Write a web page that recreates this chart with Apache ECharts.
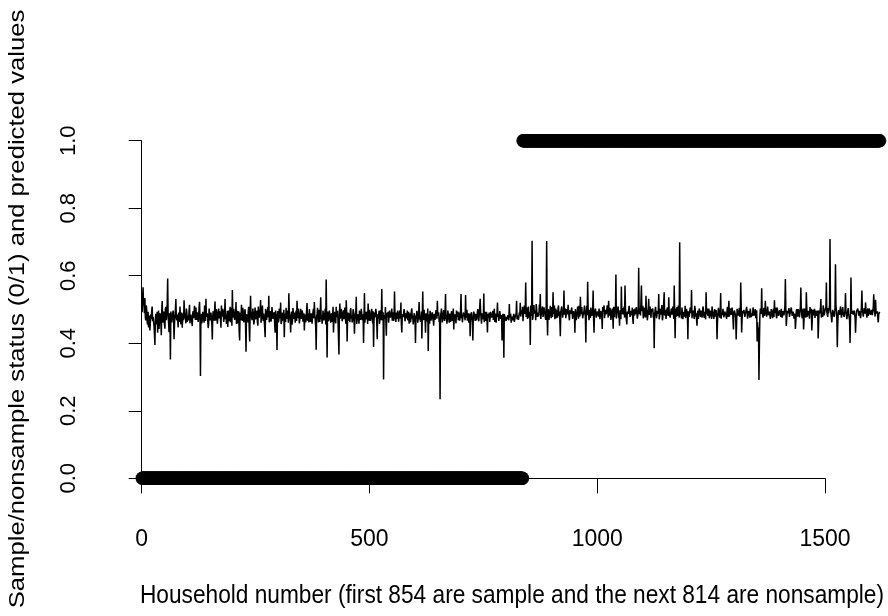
<!DOCTYPE html>
<html><head><meta charset="utf-8">
<script src="https://cdn.jsdelivr.net/npm/echarts@6/dist/echarts.min.js"></script>
<style>html,body{margin:0;padding:0;background:#fff}#c{width:888px;height:616px}</style>
</head><body><div id="c"></div>
<script>
// Household status: first block sample (0), rest nonsample (1)
const sampleCount = 836;
const nonsampleCount = 784;
// Predicted values: odd households (1, 3, 5, ...)
const predictedOdd = [
0.492,0.566,0.512,0.534,0.468,0.501,0.455,0.447,0.482,0.463,0.471,0.509,0.478,0.452,0.395,0.487,0.469,0.431,0.497,0.466,
0.478,0.424,0.525,0.461,0.494,0.443,0.508,0.471,0.592,0.462,0.489,0.352,0.476,0.459,0.497,0.412,0.483,0.531,0.468,0.472,
0.491,0.463,0.505,0.478,0.446,0.487,0.527,0.474,0.459,0.493,0.482,0.468,0.514,0.477,0.488,0.451,0.495,0.472,0.483,0.506,
0.469,0.487,0.478,0.523,0.303,0.481,0.472,0.494,0.461,0.485,0.532,0.476,0.489,0.458,0.498,0.470,0.486,0.411,0.495,0.467,
0.524,0.478,0.491,0.456,0.503,0.482,0.469,0.512,0.475,0.493,0.462,0.531,0.486,0.471,0.448,0.497,0.483,0.462,0.505,0.558,
0.476,0.491,0.468,0.522,0.487,0.459,0.495,0.408,0.483,0.514,0.466,0.489,0.473,0.501,0.375,0.486,0.462,0.508,0.405,0.541,
0.492,0.471,0.485,0.463,0.506,0.478,0.497,0.452,0.488,0.474,0.528,0.481,0.512,0.466,0.489,0.418,0.496,0.473,0.507,0.541,
0.471,0.488,0.459,0.503,0.477,0.492,0.431,0.484,0.380,0.495,0.468,0.481,0.521,0.463,0.490,0.476,0.418,0.488,0.505,0.472,
0.486,0.548,0.479,0.432,0.494,0.468,0.507,0.483,0.461,0.497,0.526,0.474,0.489,0.456,0.502,0.478,0.491,0.466,0.438,0.485,
0.473,0.519,0.488,0.462,0.496,0.471,0.484,0.453,0.502,0.522,0.468,0.381,0.487,0.476,0.499,0.463,0.536,0.482,0.470,0.494,
0.478,0.503,0.589,0.358,0.486,0.472,0.497,0.461,0.489,0.475,0.432,0.493,0.468,0.508,0.481,0.464,0.367,0.518,0.479,0.491,
0.467,0.498,0.473,0.486,0.527,0.405,0.491,0.476,0.462,0.504,0.483,0.469,0.495,0.428,0.487,0.538,0.471,0.482,0.458,0.496,
0.476,0.489,0.463,0.401,0.549,0.482,0.471,0.494,0.518,0.467,0.485,0.478,0.502,0.459,0.389,0.491,0.474,0.487,0.412,0.481,
0.496,0.472,0.484,0.561,0.468,0.293,0.489,0.507,0.422,0.478,0.493,0.461,0.485,0.472,0.503,0.481,0.466,0.553,0.475,0.491,
0.468,0.486,0.479,0.497,0.521,0.432,0.488,0.474,0.491,0.465,0.482,0.497,0.476,0.458,0.489,0.472,0.503,0.481,0.467,0.494,
0.401,0.478,0.489,0.466,0.522,0.481,0.473,0.414,0.553,0.487,0.469,0.431,0.492,0.478,0.377,0.485,0.496,0.467,0.483,0.474,
0.452,0.488,0.471,0.495,0.526,0.477,0.462,0.234,0.489,0.481,0.473,0.498,0.466,0.546,0.484,0.471,0.492,0.461,0.487,0.476,
0.493,0.478,0.441,0.486,0.472,0.497,0.483,0.468,0.491,0.477,0.546,0.485,0.463,0.494,0.479,0.543,0.481,0.467,0.489,0.476,
0.421,0.486,0.473,0.408,0.494,0.479,0.487,0.468,0.492,0.476,0.483,0.532,0.471,0.489,0.478,0.547,0.485,0.466,0.493,0.432,
0.476,0.491,0.468,0.484,0.472,0.496,0.481,0.463,0.488,0.477,0.521,0.485,0.469,0.492,0.474,0.408,0.487,0.357,0.482,0.471,
0.478,0.466,0.484,0.516,0.472,0.461,0.479,0.468,0.487,0.459,0.474,0.526,0.482,0.469,0.491,0.520,0.476,0.488,0.465,0.493,
0.487,0.580,0.495,0.472,0.509,0.478,0.395,0.498,0.704,0.476,0.513,0.487,0.468,0.502,0.491,0.479,0.515,0.546,0.484,0.497,
0.478,0.506,0.491,0.469,0.703,0.423,0.495,0.482,0.511,0.474,0.499,0.551,0.486,0.471,0.503,0.489,0.476,0.512,0.494,0.421,
0.488,0.507,0.479,0.556,0.492,0.474,0.501,0.486,0.513,0.468,0.495,0.482,0.504,0.477,0.491,0.431,0.498,0.484,0.509,0.473,
0.494,0.538,0.486,0.503,0.478,0.497,0.489,0.402,0.511,0.582,0.483,0.499,0.475,0.506,0.488,0.556,0.431,0.492,0.507,0.481,
0.496,0.479,0.508,0.487,0.501,0.442,0.493,0.512,0.476,0.498,0.485,0.504,0.526,0.482,0.495,0.471,0.503,0.443,0.490,0.507,
0.604,0.488,0.497,0.476,0.452,0.503,0.568,0.491,0.485,0.509,0.571,0.483,0.456,0.498,0.489,0.512,0.479,0.494,0.506,0.457,
0.491,0.503,0.486,0.511,0.478,0.624,0.495,0.482,0.571,0.499,0.474,0.506,0.488,0.541,0.493,0.481,0.532,0.497,0.485,0.502,
0.489,0.476,0.385,0.498,0.507,0.482,0.493,0.546,0.479,0.501,0.487,0.468,0.495,0.551,0.484,0.472,0.499,0.488,0.536,0.491,
0.478,0.503,0.486,0.495,0.571,0.415,0.492,0.507,0.481,0.497,0.699,0.488,0.474,0.505,0.493,0.479,0.511,0.486,0.498,0.412,
0.491,0.483,0.504,0.558,0.487,0.496,0.472,0.501,0.489,0.452,0.497,0.484,0.508,0.478,0.493,0.486,0.502,0.475,0.489,0.551,
0.496,0.481,0.503,0.488,0.495,0.472,0.507,0.485,0.493,0.479,0.498,0.412,0.487,0.502,0.476,0.549,0.491,0.484,0.506,0.479,
0.492,0.485,0.499,0.478,0.526,0.489,0.503,0.481,0.494,0.441,0.497,0.486,0.411,0.502,0.488,0.495,0.479,0.580,0.432,0.496,
0.487,0.503,0.478,0.495,0.509,0.484,0.492,0.476,0.505,0.489,0.481,0.498,0.486,0.501,0.473,0.405,0.438,0.291,0.479,0.495,
0.563,0.488,0.497,0.481,0.526,0.493,0.478,0.505,0.487,0.499,0.483,0.496,0.474,0.502,0.527,0.489,0.481,0.506,0.492,0.485,
0.494,0.478,0.503,0.487,0.498,0.482,0.590,0.451,0.496,0.485,0.504,0.479,0.492,0.507,0.486,0.498,0.481,0.442,0.495,0.489,
0.501,0.486,0.497,0.565,0.483,0.494,0.441,0.503,0.488,0.551,0.479,0.496,0.485,0.507,0.491,0.438,0.499,0.484,0.502,0.489,
0.495,0.482,0.414,0.497,0.486,0.531,0.491,0.478,0.503,0.489,0.497,0.580,0.485,0.504,0.492,0.709,0.488,0.462,0.499,0.491,
0.484,0.634,0.497,0.388,0.491,0.503,0.486,0.498,0.481,0.507,0.492,0.485,0.549,0.496,0.483,0.504,0.489,0.401,0.595,0.487,
0.496,0.483,0.502,0.431,0.494,0.488,0.505,0.479,0.497,0.486,0.556,0.491,0.484,0.499,0.521,0.487,0.495,0.481,0.503,0.490,
0.486,0.497,0.482,0.545,0.491,0.529,0.488,0.495,0.462,0.491
];
// Predicted values: even households (2, 4, 6, ...)
const predictedEven = [
0.538,0.521,0.489,0.476,0.512,0.462,0.493,0.471,0.438,0.486,0.497,0.465,0.481,0.427,0.472,0.456,0.493,0.478,0.442,0.489,
0.463,0.497,0.474,0.483,0.456,0.502,0.468,0.517,0.479,0.433,0.471,0.494,0.462,0.488,0.473,0.456,0.499,0.477,0.485,0.447,
0.483,0.509,0.456,0.491,0.473,0.468,0.492,0.481,0.503,0.464,0.476,0.497,0.459,0.485,0.463,0.488,0.474,0.511,0.469,0.482,
0.492,0.463,0.506,0.472,0.487,0.459,0.493,0.471,0.512,0.466,0.478,0.489,0.445,0.503,0.468,0.491,0.457,0.482,0.474,0.498,
0.467,0.501,0.458,0.487,0.474,0.495,0.446,0.479,0.502,0.463,0.488,0.471,0.457,0.496,0.483,0.465,0.508,0.476,0.452,0.489,
0.502,0.469,0.484,0.457,0.496,0.478,0.433,0.491,0.468,0.477,0.505,0.462,0.494,0.452,0.486,0.471,0.497,0.443,0.482,0.474,
0.468,0.503,0.456,0.492,0.471,0.487,0.463,0.509,0.476,0.498,0.461,0.494,0.473,0.488,0.446,0.502,0.469,0.486,0.477,0.462,
0.495,0.464,0.507,0.472,0.486,0.451,0.497,0.468,0.479,0.462,0.503,0.474,0.457,0.491,0.467,0.499,0.475,0.463,0.484,0.497,
0.461,0.492,0.468,0.483,0.455,0.504,0.472,0.491,0.476,0.466,0.487,0.503,0.459,0.481,0.472,0.497,0.464,0.489,0.476,0.462,
0.498,0.467,0.476,0.501,0.463,0.489,0.458,0.493,0.474,0.486,0.449,0.479,0.505,0.462,0.483,0.492,0.471,0.458,0.497,0.468,
0.489,0.456,0.471,0.494,0.466,0.497,0.475,0.482,0.463,0.508,0.470,0.486,0.459,0.477,0.496,0.461,0.488,0.473,0.502,0.465,
0.484,0.471,0.506,0.458,0.492,0.479,0.467,0.489,0.498,0.474,0.462,0.501,0.477,0.468,0.493,0.457,0.486,0.473,0.497,0.469,
0.502,0.468,0.486,0.474,0.461,0.493,0.478,0.457,0.489,0.499,0.466,0.487,0.473,0.495,0.468,0.477,0.502,0.461,0.486,0.474,
0.457,0.498,0.468,0.479,0.492,0.484,0.472,0.466,0.490,0.487,0.461,0.497,0.476,0.489,0.467,0.492,0.478,0.486,0.463,0.472,
0.497,0.464,0.491,0.473,0.458,0.486,0.477,0.501,0.465,0.489,0.474,0.468,0.493,0.481,0.462,0.497,0.473,0.456,0.489,0.478,
0.472,0.496,0.461,0.487,0.471,0.463,0.494,0.482,0.468,0.499,0.476,0.489,0.465,0.503,0.471,0.458,0.488,0.477,0.492,0.466,
0.487,0.469,0.498,0.473,0.481,0.492,0.468,0.479,0.503,0.462,0.488,0.476,0.494,0.471,0.458,0.497,0.476,0.488,0.463,0.495,
0.466,0.503,0.472,0.487,0.459,0.478,0.494,0.481,0.467,0.498,0.474,0.462,0.491,0.485,0.468,0.476,0.499,0.483,0.461,0.488,
0.474,0.492,0.462,0.481,0.497,0.466,0.488,0.473,0.501,0.465,0.479,0.494,0.458,0.484,0.471,0.462,0.493,0.476,0.468,0.487,
0.481,0.463,0.493,0.476,0.487,0.469,0.502,0.474,0.461,0.489,0.478,0.466,0.495,0.472,0.484,0.467,0.458,0.486,0.473,0.466,
0.471,0.483,0.468,0.476,0.487,0.465,0.474,0.481,0.463,0.478,0.489,0.471,0.476,0.467,0.483,0.479,0.497,0.508,0.486,0.512,
0.501,0.478,0.506,0.489,0.476,0.493,0.512,0.481,0.469,0.505,0.488,0.497,0.516,0.478,0.493,0.485,0.503,0.472,0.496,0.509,
0.487,0.498,0.476,0.513,0.482,0.501,0.469,0.494,0.487,0.507,0.478,0.495,0.512,0.483,0.474,0.498,0.505,0.481,0.467,0.493,
0.509,0.476,0.496,0.485,0.503,0.471,0.492,0.514,0.479,0.498,0.487,0.506,0.472,0.495,0.482,0.501,0.468,0.493,0.488,0.511,
0.479,0.496,0.507,0.474,0.489,0.512,0.478,0.495,0.483,0.501,0.468,0.493,0.506,0.481,0.497,0.472,0.489,0.503,0.476,0.494,
0.485,0.503,0.471,0.496,0.478,0.507,0.489,0.474,0.499,0.486,0.512,0.476,0.493,0.505,0.469,0.494,0.482,0.508,0.477,0.491,
0.473,0.497,0.509,0.483,0.498,0.471,0.486,0.504,0.492,0.476,0.501,0.468,0.494,0.487,0.511,0.478,0.496,0.483,0.472,0.501,
0.482,0.496,0.507,0.473,0.492,0.486,0.504,0.478,0.495,0.511,0.481,0.489,0.476,0.503,0.468,0.497,0.484,0.509,0.476,0.493,
0.503,0.491,0.479,0.508,0.474,0.496,0.487,0.471,0.502,0.485,0.513,0.477,0.494,0.482,0.499,0.469,0.506,0.481,0.492,0.476,
0.497,0.485,0.509,0.472,0.488,0.503,0.479,0.494,0.512,0.476,0.491,0.483,0.506,0.471,0.498,0.487,0.474,0.502,0.481,0.495,
0.478,0.506,0.489,0.474,0.497,0.483,0.511,0.479,0.494,0.486,0.472,0.503,0.488,0.497,0.476,0.509,0.482,0.493,0.471,0.486,
0.503,0.488,0.474,0.497,0.481,0.509,0.486,0.472,0.501,0.492,0.478,0.463,0.505,0.484,0.496,0.473,0.489,0.502,0.477,0.494,
0.486,0.472,0.508,0.491,0.479,0.497,0.484,0.506,0.473,0.489,0.498,0.476,0.463,0.494,0.482,0.505,0.487,0.512,0.471,0.489,
0.499,0.478,0.492,0.508,0.473,0.496,0.485,0.503,0.477,0.494,0.506,0.482,0.491,0.474,0.498,0.462,0.447,0.398,0.503,0.487,
0.491,0.476,0.505,0.488,0.497,0.479,0.509,0.483,0.494,0.472,0.501,0.486,0.495,0.478,0.489,0.506,0.474,0.493,0.481,0.498,
0.487,0.502,0.476,0.495,0.483,0.511,0.504,0.472,0.489,0.497,0.478,0.493,0.506,0.481,0.494,0.473,0.488,0.465,0.501,0.479,
0.493,0.477,0.509,0.498,0.474,0.503,0.469,0.492,0.476,0.507,0.485,0.498,0.473,0.489,0.502,0.467,0.483,0.496,0.475,0.497,
0.481,0.497,0.458,0.488,0.503,0.476,0.494,0.512,0.483,0.497,0.506,0.493,0.478,0.489,0.514,0.502,0.476,0.485,0.493,0.478,
0.506,0.512,0.472,0.455,0.498,0.484,0.509,0.476,0.493,0.488,0.478,0.503,0.497,0.471,0.495,0.486,0.467,0.473,0.502,0.496,
0.485,0.497,0.476,0.467,0.489,0.503,0.482,0.496,0.474,0.508,0.497,0.479,0.504,0.488,0.497,0.476,0.503,0.489,0.496,0.484,
0.499,0.483,0.508,0.502,0.479,0.496,0.484,0.472,0.486,0.493
];
const xTicks = [0, 500, 1000, 1500];
const yTicks = [0, 0.2, 0.4, 0.6, 0.8, 1.0];
const xTitle = 'Household number (first 854 are sample and the next 814 are nonsample)';
const yTitle = 'Sample/nonsample status (0/1) and predicted values';

const FONT = '"Liberation Sans", Arial, Helvetica, sans-serif';
const W = 888;
const plot = {left: 141.7, right: 63, top: 140.7, bottom: 137.7};
const xMin = xTicks[0], xMax = xTicks[xTicks.length - 1];
// data grid extends to the right edge of the canvas with the same scale as the axis grid
const xDataMax = xMin + (xMax - xMin) * (W - plot.left) / (W - plot.left - plot.right);

const statusData = [];
for (let i = 0; i < sampleCount; i++) statusData.push([i + 1, 0]);
for (let i = 0; i < nonsampleCount; i++) statusData.push([sampleCount + i + 1, 1]);
const predData = [];
for (let i = 0; i < predictedOdd.length; i++) {
  predData.push([2 * i + 1, predictedOdd[i]]);
  if (i < predictedEven.length) predData.push([2 * i + 2, predictedEven[i]]);
}

const chart = echarts.init(document.getElementById('c'), null, {renderer: 'canvas'});
chart.setOption({
  animation: false,
  backgroundColor: '#ffffff',
  grid: [
    {left: plot.left, right: plot.right, top: plot.top, bottom: plot.bottom, containLabel: false},
    {left: plot.left, right: 0, top: plot.top, bottom: plot.bottom, containLabel: false}
  ],
  xAxis: [{
    gridIndex: 0, type: 'value', min: xMin, max: xMax, interval: xTicks[1] - xTicks[0],
    offset: 14,
    axisLine: {show: true, lineStyle: {color: '#000', width: 1}},
    axisTick: {show: true, inside: false, length: 15, lineStyle: {color: '#000', width: 1}},
    axisLabel: {color: '#000', fontSize: 23, fontFamily: FONT, margin: 36, formatter: v => String(v)},
    splitLine: {show: false}
  }, {
    gridIndex: 1, type: 'value', min: xMin, max: xDataMax, show: false
  }],
  yAxis: [{
    gridIndex: 0, type: 'value', min: yTicks[0], max: yTicks[yTicks.length - 1], interval: 0.2,
    offset: 29.5,
    axisLine: {show: true, lineStyle: {color: '#000', width: 1}},
    axisTick: {show: true, inside: false, length: 13, lineStyle: {color: '#000', width: 1}},
    axisLabel: {color: '#000', fontSize: 22, fontFamily: FONT, margin: 32, rotate: 90,
      formatter: v => v.toFixed(1)},
    splitLine: {show: false}
  }, {
    gridIndex: 1, type: 'value', min: yTicks[0], max: yTicks[yTicks.length - 1], show: false
  }],
  graphic: [
    {type: 'text', x: 512, y: 596, scaleY: 1.1, style: {text: xTitle, fill: '#000', font: '22.7px ' + FONT, textAlign: 'center', textVerticalAlign: 'middle'}},
    {type: 'text', x: 18, y: 309, rotation: Math.PI / 2, scaleX: 1.13, style: {text: yTitle, fill: '#000', font: '22.7px ' + FONT, textAlign: 'center', textVerticalAlign: 'middle'}}
  ],
  series: [
    {type: 'scatter', xAxisIndex: 1, yAxisIndex: 1, data: statusData, symbol: 'circle', symbolSize: 13.4, clip: false, silent: true,
      itemStyle: {color: '#000', borderWidth: 0}},
    {type: 'line', xAxisIndex: 1, yAxisIndex: 1, data: predData, showSymbol: false, clip: false, silent: true,
      lineStyle: {color: '#000', width: 1.5}}
  ]
});
</script>
</body></html>
